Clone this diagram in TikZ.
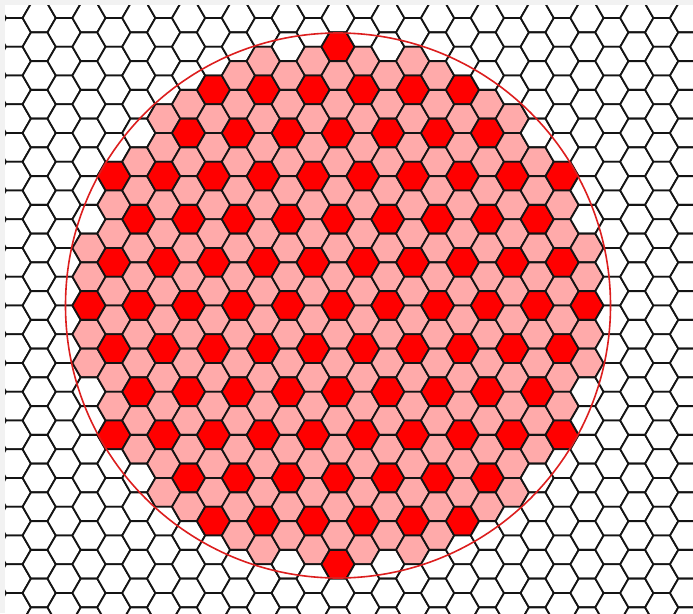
\documentclass[tikz,border=0pt]{standalone}
\definecolor{hexred}{RGB}{255,0,0}
\definecolor{hexpink}{RGB}{255,170,170}
\definecolor{circred}{RGB}{220,30,30}
\definecolor{framegray}{RGB}{242,242,242}
\tikzset{
  hexline/.style={draw=black!92, line width=1.8pt, line join=round},
  circline/.style={draw=circred, line width=1.6pt}
}
\begin{document}
\begin{tikzpicture}[x=1pt,y=-1pt]
\useasboundingbox (0,0) rectangle (693,613);
\fill[framegray] (0,0) rectangle (693,613);
\fill[white] (5,5) rectangle (693,613);
\begin{scope}
\clip (5,5) rectangle (693,613);
\foreach \q in {-14,...,15}{
  \foreach \m in {-12,...,12}{
    \pgfmathsetmacro{\cx}{338+24.9*\q}
    \pgfmathtruncatemacro{\pp}{mod(abs(\q),2)}
    \pgfmathsetmacro{\cy}{305.5+28.75*(\m+0.5*\pp)}
    \pgfmathtruncatemacro{\rr}{\m-floor(\q/2)}
    \pgfmathtruncatemacro{\nrm}{\q*\q+\q*\rr+\rr*\rr}
    \pgfmathtruncatemacro{\md}{mod(\q-\rr,3)}
    \ifnum\nrm>81
      \def\col{white}
    \else
      \ifnum\md=0 \def\col{hexred}\else\def\col{hexpink}\fi
    \fi
    \path[hexline,fill=\col] (\cx+16.6,\cy) -- ++(-8.3,14.375) -- ++(-16.6,0)
      -- ++(-8.3,-14.375) -- ++(8.3,-14.375) -- ++(16.6,0) -- cycle;
  }
}
\end{scope}
\draw[circline] (338,305.5) circle[radius=272.5];
\end{tikzpicture}
\end{document}
